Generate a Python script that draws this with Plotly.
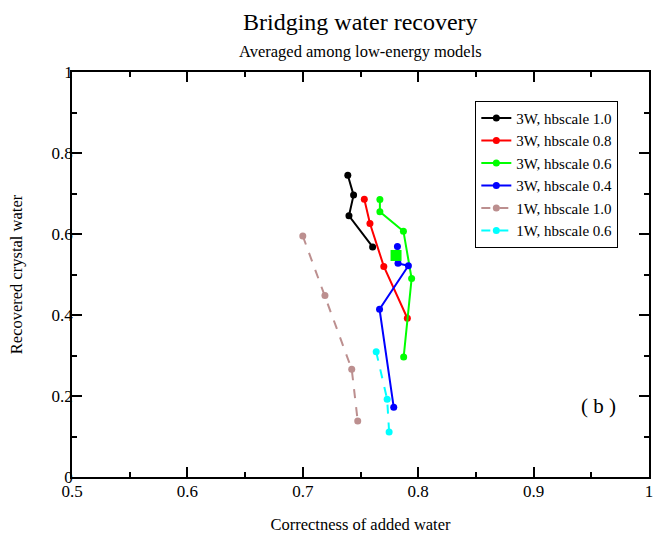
import plotly.graph_objects as go

# ---- data ----
names = ["3W, hbscale 1.0", "3W, hbscale 0.8", "3W, hbscale 0.6",
         "3W, hbscale 0.4", "1W, hbscale 1.0", "1W, hbscale 0.6"]
colors = ["#000000", "#ff0000", "#00ff00", "#0000ff", "#bc8f8f", "#00ffff"]
dashes = ["solid", "solid", "solid", "solid", "dash", "dash"]

x_3w_10 = [0.739, 0.744, 0.740, 0.7605]
y_3w_10 = [0.745, 0.696, 0.645, 0.568]
x_3w_08 = [0.7533, 0.7582, 0.7702, 0.7906]
y_3w_08 = [0.686, 0.626, 0.520, 0.392]
x_3w_06 = [0.7668, 0.7668, 0.7872, 0.7943, 0.7874]
y_3w_06 = [0.685, 0.655, 0.607, 0.490, 0.296]
x_3w_04 = [0.782, 0.7825, 0.7915, 0.7665, 0.7788]
y_3w_04 = [0.569, 0.5275, 0.5216, 0.4145, 0.172]
x_1w_10 = [0.700, 0.7192, 0.7424, 0.7476]
y_1w_10 = [0.595, 0.448, 0.266, 0.138]
x_1w_06 = [0.7636, 0.7731, 0.7748]
y_1w_06 = [0.309, 0.192, 0.111]

xs = [x_3w_10, x_3w_08, x_3w_06, x_3w_04, x_1w_10, x_1w_06]
ys = [y_3w_10, y_3w_08, y_3w_06, y_3w_04, y_1w_10, y_1w_06]

# reference point (green square)
ref_x = [0.7808]
ref_y = [0.547]

x_ticks = [0.5, 0.6, 0.7, 0.8, 0.9, 1.0]
x_tick_labels = ["0.5", "0.6", "0.7", "0.8", "0.9", "1"]
x_minor = [0.55, 0.65, 0.75, 0.85, 0.95]
y_ticks = [0, 0.2, 0.4, 0.6, 0.8, 1.0]
y_tick_labels = ["0", "0.2", "0.4", "0.6", "0.8", "1"]
y_minor = [0.1, 0.3, 0.5, 0.7, 0.9]

FONT = "Liberation Serif, Times New Roman, serif"

fig = go.Figure()
for x, y, n, c, d in zip(xs, ys, names, colors, dashes):
    fig.add_trace(go.Scatter(
        x=x, y=y, name=n, mode="lines+markers",
        line=dict(color=c, width=2, dash=d),
        marker=dict(color=c, size=7, symbol="circle"),
    ))
fig.add_trace(go.Scatter(
    x=ref_x, y=ref_y, mode="markers", showlegend=False,
    marker=dict(color="#00ff00", size=11, symbol="square"),
))

axis_common = dict(
    showgrid=False, zeroline=False, showline=True, linecolor="black",
    linewidth=1.5, mirror="allticks", ticks="inside", ticklen=10,
    tickcolor="black", tickwidth=1.5,
    tickfont=dict(family=FONT, size=17, color="black"),
)

fig.update_layout(
    width=656, height=534,
    margin=dict(l=72, r=3, t=72, b=55),
    plot_bgcolor="white", paper_bgcolor="white",
    font=dict(family=FONT, color="black"),
    xaxis=dict(range=[0.5, 1.0], tickvals=x_ticks, ticktext=x_tick_labels,
               ticklabelstandoff=-2,
               minor=dict(ticks="inside", ticklen=5, tickvals=x_minor,
                          tickcolor="black", tickwidth=1.5),
               title=dict(text="Correctness of added water",
                          font=dict(family=FONT, size=16.5), standoff=18),
               **axis_common),
    yaxis=dict(range=[0, 1.0], tickvals=y_ticks, ticktext=y_tick_labels,
               ticklabelstandoff=-6,
               minor=dict(ticks="inside", ticklen=5, tickvals=y_minor,
                          tickcolor="black", tickwidth=1.5),
               title=dict(text="Recovered crystal water",
                          font=dict(family=FONT, size=16.5), standoff=25),
               **axis_common),
    legend=dict(
        x=0.699, y=0.929, xanchor="left", yanchor="top",
        bgcolor="white", bordercolor="black", borderwidth=1,
        font=dict(family=FONT, size=15, color="black"),
        tracegroupgap=0, itemwidth=30,
    ),
    annotations=[
        dict(text="Bridging water recovery", xref="paper", yref="paper",
             x=0.5, y=1.0, yshift=50, yanchor="middle", showarrow=False,
             font=dict(family=FONT, size=24)),
        dict(text="Averaged among low-energy models", xref="paper", yref="paper",
             x=0.5, y=1.0, yshift=21, yanchor="middle", showarrow=False,
             font=dict(family=FONT, size=16.5)),
        dict(text="( b )", xref="x", yref="y", x=0.956, y=0.1745,
             showarrow=False, font=dict(family=FONT, size=21)),
    ],
)

fig.write_html("out.html", config={"displayModeBar": False},
               post_script="document.body.style.margin='0px';")
